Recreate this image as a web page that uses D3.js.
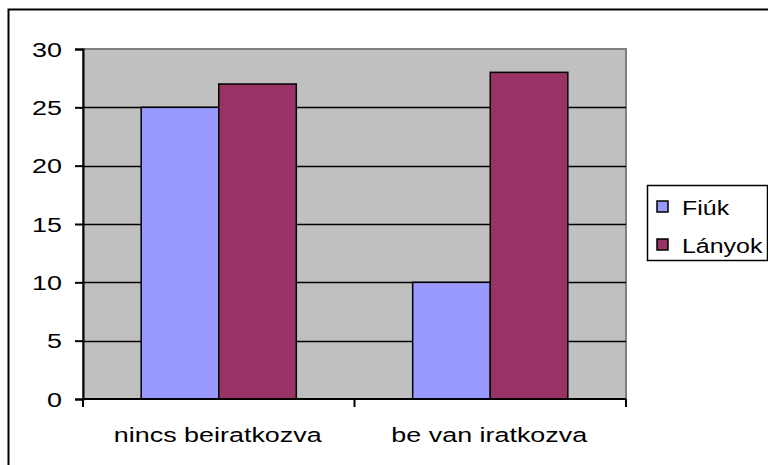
<!DOCTYPE html>
<html>
<head>
<meta charset="utf-8">
<script src="https://cdn.jsdelivr.net/npm/d3@7"></script>
<style>
  body { margin: 0; background: #fff; }
  text { font-family: "Liberation Sans", Arial, sans-serif; fill: #000; }
</style>
</head>
<body>
<script>
var categories = ["nincs beiratkozva", "be van iratkozva"];
var seriesNames = ["Fiúk", "Lányok"];
var fiuk = [25, 10];
var lanyok = [27, 28];
var yTicks = [0, 5, 10, 15, 20, 25, 30];
var colors = ["#9999FF", "#993366"];

var W = 768, H = 465;
var plot = {left: 83, top: 49, right: 626, bottom: 399};
var stretch = 1.38; // the original picture is stretched sideways

var svg = d3.select("body").append("svg")
    .attr("width", W)
    .attr("height", H);

// outer chart frame (runs off the canvas right and bottom)
svg.append("rect")
    .attr("x", 8.5).attr("y", 9.5)
    .attr("width", W + 10).attr("height", H + 10)
    .attr("fill", "#fff")
    .attr("stroke", "#000")
    .attr("stroke-width", 2);

var x0 = d3.scaleBand()
    .domain(categories)
    .range([plot.left, plot.right])
    .paddingInner(0)
    .paddingOuter(0);

var x1 = d3.scaleBand()
    .domain(seriesNames)
    .range([0, x0.bandwidth()])
    .paddingInner(0)
    .paddingOuter(0.75);

var y = d3.scaleLinear()
    .domain([0, 30])
    .range([plot.bottom, plot.top]);

// plot area background
svg.append("rect")
    .attr("x", plot.left).attr("y", plot.top)
    .attr("width", plot.right - plot.left)
    .attr("height", plot.bottom - plot.top)
    .attr("fill", "#C0C0C0")
    .attr("stroke", "#808080")
    .attr("stroke-width", 2);

// gridlines
svg.append("g")
    .selectAll("line")
    .data(yTicks.filter(function(d) { return d > 0 && d < 30; }))
    .enter().append("line")
    .attr("x1", plot.left).attr("x2", plot.right)
    .attr("y1", function(d) { return Math.round(y(d)) + 0.5; })
    .attr("y2", function(d) { return Math.round(y(d)) + 0.5; })
    .attr("stroke", "#000")
    .attr("stroke-width", 1.5);

// bars
var rows = categories.map(function(c, i) {
    return {cat: c, vals: [fiuk[i], lanyok[i]]};
});

svg.append("g")
    .selectAll("g")
    .data(rows)
    .enter().append("g")
    .attr("transform", function(d) { return "translate(" + x0(d.cat) + ",0)"; })
    .selectAll("rect")
    .data(function(d) { return d.vals.map(function(v, j) { return {name: seriesNames[j], v: v, j: j}; }); })
    .enter().append("rect")
    .attr("x", function(d) { return x1(d.name); })
    .attr("y", function(d) { return y(d.v); })
    .attr("width", x1.bandwidth())
    .attr("height", function(d) { return y(0) - y(d.v); })
    .attr("fill", function(d) { return colors[d.j]; })
    .attr("stroke", "#000")
    .attr("stroke-width", 1.5);

// y axis
var yAxis = d3.axisLeft(y)
    .tickValues(yTicks)
    .tickSize(8);

var gy = svg.append("g")
    .attr("transform", "translate(" + plot.left + ",0)")
    .call(yAxis);
gy.select(".domain").attr("stroke", "#000").attr("stroke-width", 2);
gy.selectAll(".tick line").attr("stroke", "#000").attr("stroke-width", 2);
gy.selectAll(".tick text")
    .attr("x", 0)
    .attr("dy", "0.36em")
    .attr("transform", "translate(-21,0) scale(" + stretch + ",1)")
    .style("font-size", "19.5px")
    .attr("fill", "#000");

// x axis
var xTickScale = d3.scaleLinear().domain([0, 2]).range([plot.left, plot.right]);
var gx = svg.append("g")
    .attr("transform", "translate(0," + plot.bottom + ")");
gx.append("line")
    .attr("x1", plot.left).attr("x2", plot.right)
    .attr("stroke", "#000").attr("stroke-width", 2);
gx.selectAll(".xt")
    .data([0, 1, 2])
    .enter().append("line")
    .attr("x1", function(d) { return xTickScale(d); })
    .attr("x2", function(d) { return xTickScale(d); })
    .attr("y1", 0).attr("y2", 8)
    .attr("stroke", "#000").attr("stroke-width", 2);
gx.selectAll(".xl")
    .data(categories)
    .enter().append("text")
    .attr("transform", function(d) {
        return "translate(" + (x0(d) + x0.bandwidth() / 2 - 1) + ",43) scale(" + stretch + ",1)";
    })
    .attr("text-anchor", "middle")
    .style("font-size", "19.5px")
    .text(function(d) { return d; });

// legend
var lg = svg.append("g").attr("transform", "translate(647,185)");
lg.append("rect")
    .attr("x", 0.5).attr("y", 0.5)
    .attr("width", 120).attr("height", 75)
    .attr("fill", "#fff")
    .attr("stroke", "#000")
    .attr("stroke-width", 1.5);
var items = lg.selectAll(".it")
    .data(seriesNames)
    .enter().append("g")
    .attr("transform", function(d, i) { return "translate(10," + (16 + i * 38) + ")"; });
items.append("rect")
    .attr("width", 11).attr("height", 11)
    .attr("fill", function(d, i) { return colors[i]; })
    .attr("stroke", "#000")
    .attr("stroke-width", 1.5);
items.append("text")
    .attr("transform", "translate(25,14) scale(1.28,1)")
    .style("font-size", "19.5px")
    .text(function(d) { return d; });
</script>
</body>
</html>
